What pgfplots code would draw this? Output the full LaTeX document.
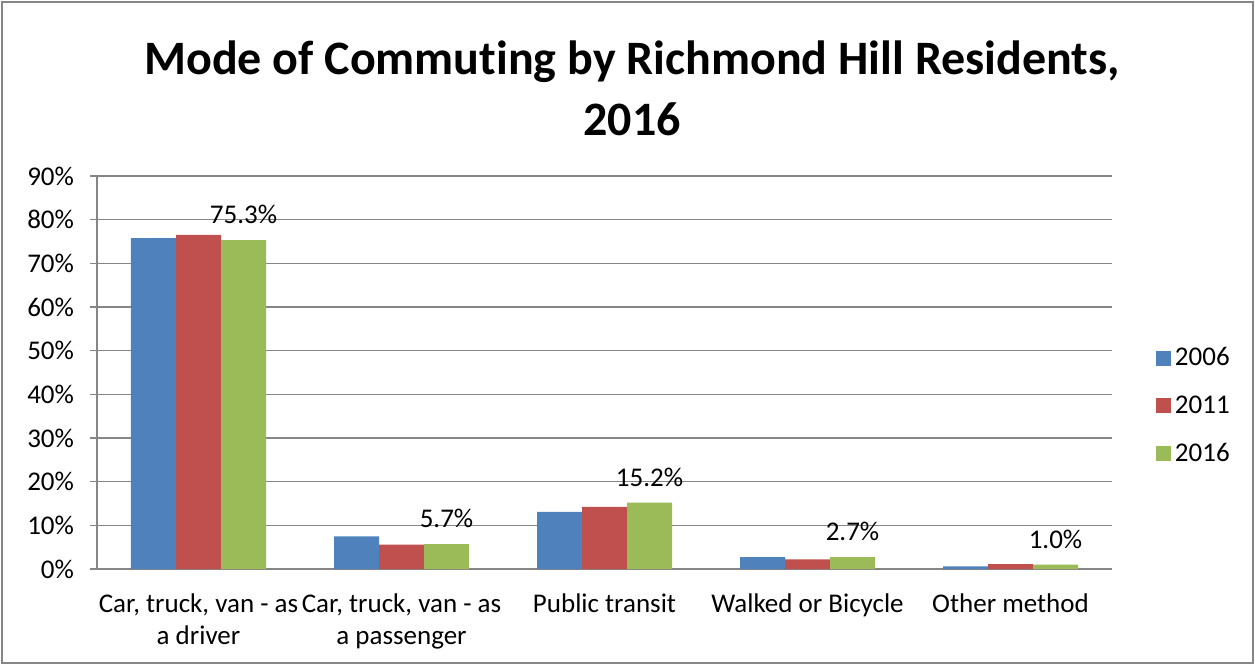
\documentclass[border=0pt]{standalone}
\usepackage{pgfplots}
\pgfplotsset{compat=1.18}
\usepackage{fontspec}
\setmainfont{Carlito}[Ligatures={NoCommon,NoContextual}]
\definecolor{c06}{HTML}{4F81BD}
\definecolor{c11}{HTML}{C0504D}
\definecolor{c16}{HTML}{9BBB59}
\definecolor{gridgray}{HTML}{868686}

\begin{document}
\begin{tikzpicture}[x=1pt,y=1pt]
  \useasboundingbox (-48.5,-48) rectangle (579,284.5);
  \draw[gridgray, line width=0.8pt] (-47.5,-47) rectangle (578,283.5);
  \node[align=center, font=\fontsize{24}{30.5}\selectfont\bfseries] at (267.5,240.5)
    {Mode of Commuting by Richmond Hill Residents,\\2016};
  \begin{axis}[
    at={(0,0)}, anchor=south west,
    scale only axis,
    width=507.5pt, height=196.5pt,
    ybar=0pt, bar width=22.5pt,
    xmin=-0.5, xmax=4.5,
    ymin=0, ymax=90,
    ytick={0,10,...,90},
    yticklabel={\pgfmathprintnumber{\tick}\%},
    yticklabel style={xshift=-4.5pt},
    /pgf/number format/assume math mode=true,
    xtick={0,1,2,3,4},
    xticklabels={{Car, truck, van - as\\a driver},{Car, truck, van - as\\a passenger},Public transit,Walked or Bicycle,Other method},
    xticklabel style={align=center, anchor=north, yshift=-5.5pt},
    x tick style={draw=none},
    extra x ticks={-0.5,0.5,1.5,2.5,3.5,4.5},
    extra x tick labels={},
    extra x tick style={grid=none, major tick length=3.5pt, tick style={draw=gridgray, line width=0.8pt}},
    tick align=outside,
    major tick length=3.5pt,
    y tick style={draw=gridgray, line width=0.8pt},
    axis x line*=bottom, axis y line*=left,
    axis line style={draw=gridgray, line width=0.8pt},
    ymajorgrids, grid style={gridgray, line width=0.8pt},
    font=\fontsize{13.5}{16}\selectfont,
    ticklabel style={font=\fontsize{13.5}{16}\selectfont},
    legend style={at={(1.037,0.415)}, anchor=west, draw=none, fill=none,
      font=\fontsize{13.5}{16}\selectfont, row sep=9.5pt},
    legend image code/.code={\fill[#1] (0pt,-3.75pt) rectangle (7.5pt,3.75pt);},
    legend cell align=left,
  ]
    \addplot[fill=c06, draw=none] coordinates {(0,75.8) (1,7.5) (2,13.1) (3,2.7) (4,0.6)};
    \addplot[fill=c11, draw=none] coordinates {(0,76.5) (1,5.6) (2,14.2) (3,2.2) (4,1.1)};
    \addplot[fill=c16, draw=none,
      nodes near coords={\pgfmathprintnumber[fixed,precision=1,fixed zerofill]{\pgfplotspointmeta}\%},
      nodes near coords style={anchor=south, yshift=4.5pt, text=black, font=\fontsize{13.5}{16}\selectfont,
        /pgf/number format/assume math mode=true}]
      coordinates {(0,75.3) (1,5.7) (2,15.2) (3,2.7) (4,1.0)};
    \legend{2006,2011,2016}
  \end{axis}
\end{tikzpicture}
\end{document}
